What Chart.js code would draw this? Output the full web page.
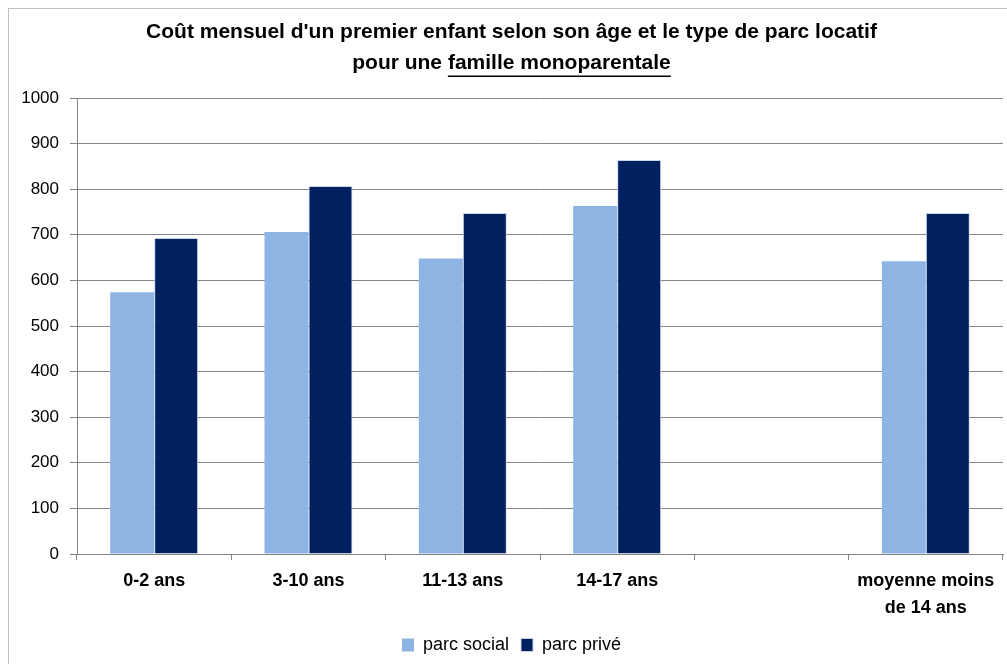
<!DOCTYPE html>
<html>
<head>
<meta charset="utf-8">
<script src="https://cdn.jsdelivr.net/npm/chart.js@4"></script>
<style>
  html, body { margin: 0; padding: 0; background: #fff; overflow: hidden; }
  #cadre { position: absolute; left: 8px; top: 8px; width: 1020px; height: 680px; border: 1px solid #bfbfbf; }
  #zone { position: absolute; left: 0; top: 0; width: 1007px; height: 664px; }
</style>
</head>
<body>
<div id="cadre"></div>
<div id="zone"><canvas id="graphique"></canvas></div>
<script>
// Données
const categories = ['0-2 ans', '3-10 ans', '11-13 ans', '14-17 ans', '', ['moyenne moins', 'de 14 ans']];
const parcSocial = [574, 706, 648, 763, null, 642];
const parcPrive = [693, 807, 748, 864, null, 748];
const ticksY = [0, 100, 200, 300, 400, 500, 600, 700, 800, 900, 1000];

const titre = ["Coût mensuel d'un premier enfant selon son âge et le type de parc locatif", 'pour une famille monoparentale'];
const police = "'Liberation Sans Narrow', 'Arial Narrow', 'Liberation Sans', Arial, sans-serif";

// Soulignement de "famille monoparentale"
const souligne = {
  id: 'souligne',
  afterDraw(chart) {
    const t = chart.titleBlock;
    const opts = chart.options.plugins.title;
    const ctx = chart.ctx;
    const taille = opts.font.size;
    const hauteurLigne = taille * opts.font.lineHeight;
    ctx.save();
    ctx.font = 'bold ' + taille + 'px ' + police;
    const ligne = titre[1];
    const debut = 'pour une ';
    const mot = 'famille monoparentale';
    const cx = (t.left + t.right) / 2;
    const x0 = cx - ctx.measureText(ligne).width / 2 + ctx.measureText(debut).width;
    const x1 = x0 + ctx.measureText(mot).width;
    const y = t.top + opts.padding.top + hauteurLigne * 1.5 + taille * 0.62;
    ctx.strokeStyle = '#000';
    ctx.lineWidth = 1.6;
    ctx.beginPath();
    ctx.moveTo(x0, y);
    ctx.lineTo(x1, y);
    ctx.stroke();
    ctx.restore();
  }
};

new Chart(document.getElementById('graphique').getContext('2d'), {
  type: 'bar',
  data: {
    labels: categories,
    datasets: [
      {
        label: 'parc social',
        data: parcSocial,
        backgroundColor: '#8EB4E3'
      },
      {
        label: 'parc privé',
        data: parcPrive,
        backgroundColor: '#002060',
        borderColor: '#c9d6ea',
        borderWidth: 1
      }
    ]
  },
  options: {
    responsive: true,
    maintainAspectRatio: false,
    animation: false,
    layout: { padding: { left: 20, right: 4, top: 16, bottom: 0 } },
    datasets: {
      bar: { categoryPercentage: 0.57, barPercentage: 1 }
    },
    plugins: {
      title: {
        display: true,
        text: titre,
        color: '#000',
        font: { family: police, size: 21, weight: 'bold', lineHeight: 1.5 },
        padding: { top: 0, bottom: 19 }
      },
      legend: {
        position: 'bottom',
        labels: {
          color: '#000',
          font: { family: police, size: 18 },
          boxWidth: 12,
          boxHeight: 13,
          padding: 12
        }
      },
      tooltip: { enabled: false }
    },
    scales: {
      x: {
        grid: { drawOnChartArea: false, drawTicks: true, tickLength: 6, color: '#868686', offset: true },
        border: { color: '#868686' },
        ticks: {
          color: '#000',
          font: { family: police, size: 18, weight: 'bold', lineHeight: 1.5 },
          padding: 8,
          maxRotation: 0,
          autoSkip: false
        },
        afterFit(scale) { scale.height = 70; }
      },
      y: {
        min: 0,
        max: 1000,
        afterBuildTicks(scale) { scale.ticks = ticksY.map(v => ({ value: v })); },
        grid: { color: '#868686', tickLength: 7 },
        border: { color: '#868686' },
        ticks: {
          color: '#000',
          font: { family: police, size: 17 },
          padding: 11,
          callback: v => String(v)
        },
        afterFit(scale) { scale.width = 57; }
      }
    }
  },
  plugins: [souligne]
});
</script>
</body>
</html>
